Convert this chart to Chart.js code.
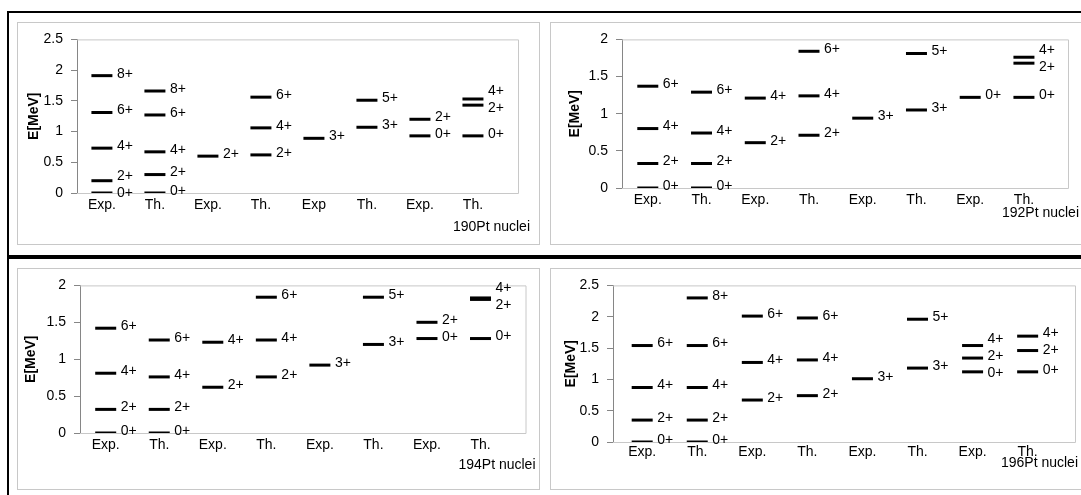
<!DOCTYPE html>
<html>
<head>
<meta charset="utf-8">
<script src="https://cdn.jsdelivr.net/npm/chart.js@4.4.0/dist/chart.umd.min.js"></script>
<style>
  body { margin: 0; width: 1081px; height: 495px; overflow: hidden; background: #fff; position: relative; }
  .frame { position: absolute; background: #000; }
  .panel { position: absolute; border: 1px solid #c8c8c8; }
  .panel canvas { display: block; }
</style>
</head>
<body>
<div class="frame" style="left:7px;top:11px;width:1074px;height:2px"></div>
<div class="frame" style="left:7px;top:11px;width:2px;height:484px"></div>
<div class="frame" style="left:7px;top:255px;width:1074px;height:4px"></div>

<div class="panel" style="left:17px;top:22px"><canvas id="c190" width="521" height="221"></canvas></div>
<div class="panel" style="left:550px;top:22px"><canvas id="c192" width="538" height="221"></canvas></div>
<div class="panel" style="left:17px;top:268px"><canvas id="c194" width="521" height="220"></canvas></div>
<div class="panel" style="left:550px;top:268px"><canvas id="c196" width="538" height="220"></canvas></div>

<script>
// column names under each diagram
const cats190 = ['Exp.', 'Th.', 'Exp.', 'Th.', 'Exp', 'Th.', 'Exp.', 'Th.'];
const cats192 = ['Exp.', 'Th.', 'Exp.', 'Th.', 'Exp.', 'Th.', 'Exp.', 'Th.'];
const cats194 = ['Exp.', 'Th.', 'Exp.', 'Th.', 'Exp.', 'Th.', 'Exp.', 'Th.'];
const cats196 = ['Exp.', 'Th.', 'Exp.', 'Th.', 'Exp.', 'Th.', 'Exp.', 'Th.'];

// level energies (MeV) per column, and their spin labels
const e190 = [[1.91, 1.31, 0.73, 0.20, 0], [1.66, 1.27, 0.67, 0.30, 0], [0.60], [1.56, 1.06, 0.62], [0.89], [1.51, 1.07], [1.20, 0.93], [1.53, 1.43, 0.93]];
const spin190 = [['8+', '6+', '4+', '2+', '0+'], ['8+', '6+', '4+', '2+', '0+'], ['2+'], ['6+', '4+', '2+'], ['3+'], ['5+', '3+'], ['2+', '0+'], ['4+', '2+', '0+']];

const e192 = [[1.37, 0.80, 0.33, 0], [1.29, 0.74, 0.33, 0], [1.21, 0.61], [1.84, 1.24, 0.71], [0.94], [1.81, 1.05], [1.22], [1.76, 1.68, 1.22]];
const spin192 = [['6+', '4+', '2+', '0+'], ['6+', '4+', '2+', '0+'], ['4+', '2+'], ['6+', '4+', '2+'], ['3+'], ['5+', '3+'], ['0+'], ['4+', '2+', '0+']];

const e194 = [[1.42, 0.81, 0.32, 0], [1.26, 0.76, 0.32, 0], [1.23, 0.62], [1.84, 1.26, 0.76], [0.92], [1.84, 1.20], [1.50, 1.28], [1.83, 1.81, 1.28]];
const spin194 = [['6+', '4+', '2+', '0+'], ['6+', '4+', '2+', '0+'], ['4+', '2+'], ['6+', '4+', '2+'], ['3+'], ['5+', '3+'], ['2+', '0+'], ['4+', '2+', '0+']];

const e196 = [[1.54, 0.87, 0.35, 0], [2.30, 1.54, 0.87, 0.35, 0], [2.01, 1.27, 0.67], [1.98, 1.31, 0.74], [1.01], [1.96, 1.18], [1.54, 1.34, 1.12], [1.69, 1.46, 1.12]];
const spin196 = [['6+', '4+', '2+', '0+'], ['8+', '6+', '4+', '2+', '0+'], ['6+', '4+', '2+'], ['6+', '4+', '2+'], ['3+'], ['5+', '3+'], ['4+', '2+', '0+'], ['4+', '2+', '0+']];

const FONT = "'Liberation Sans', Arial, sans-serif";
Chart.defaults.font.family = FONT;
Chart.defaults.font.size = 14;
Chart.defaults.color = '#000';

// plot frame (top, right, bottom) in light grey
const plotFrame = {
  id: 'plotFrame',
  beforeDatasetsDraw(chart) {
    const { ctx, chartArea: a } = chart;
    ctx.save();
    ctx.strokeStyle = '#c8c8c8';
    ctx.lineWidth = 1;
    ctx.beginPath();
    ctx.moveTo(a.left, a.top + 0.5);
    ctx.lineTo(a.right + 0.5, a.top + 0.5);
    ctx.lineTo(a.right + 0.5, a.bottom + 0.5);
    ctx.lineTo(a.left, a.bottom + 0.5);
    ctx.stroke();
    ctx.restore();
  }
};

// spin labels to the right of each level, pushed apart when levels crowd
const levelLabels = {
  id: 'levelLabels',
  afterDatasetsDraw(chart, args, opts) {
    const ctx = chart.ctx;
    const meta = chart.getDatasetMeta(0);
    const raw = chart.data.datasets[0].data;
    const cols = {};
    meta.data.forEach((pt, i) => {
      const c = raw[i].x;
      (cols[c] = cols[c] || []).push({ x: pt.x, y: pt.y - 2, text: raw[i].spin });
    });
    ctx.save();
    ctx.font = '14px ' + FONT;
    ctx.fillStyle = '#000';
    ctx.textBaseline = 'middle';
    Object.values(cols).forEach(list => {
      list.sort((a, b) => a.y - b.y);
      for (let pass = 0; pass < 30; pass++) {
        for (let k = 1; k < list.length; k++) {
          const d = list[k].y - list[k - 1].y;
          if (d < 17) {
            list[k].y += (17 - d) / 2;
            list[k - 1].y -= (17 - d) / 2;
          }
        }
      }
      list.forEach(l => ctx.fillText(l.text, l.x + 15, l.y));
    });
    // nucleus name under the right end of the axis
    ctx.textAlign = 'right';
    ctx.fillText(opts.name, chart.chartArea.right + opts.dx, chart.chartArea.bottom + opts.dy);
    ctx.restore();
  }
};

function drawPanel(cfg) {
  const points = [];
  cfg.E.forEach((col, i) => col.forEach((v, k) => points.push({ x: i, y: v, spin: cfg.spin[i][k] })));

  new Chart(document.getElementById(cfg.id), {
    type: 'scatter',
    data: {
      datasets: [{
        data: points,
        pointStyle: 'line',
        pointRadius: 10.5,
        borderWidth: 3,
        borderColor: '#000',
        backgroundColor: '#000',
        clip: { left: false, right: false, top: false, bottom: 0 }
      }]
    },
    options: {
      responsive: false,
      animation: false,
      events: [],
      layout: { padding: { left: 0, top: 16, right: cfg.right, bottom: 0 } },
      plugins: {
        legend: { display: false },
        tooltip: { enabled: false },
        levelLabels: { name: cfg.name, dx: cfg.nameDx, dy: cfg.nameDy }
      },
      scales: {
        x: {
          type: 'linear',
          min: cfg.xMin,
          max: cfg.xMax,
          afterBuildTicks: s => { s.ticks = cfg.cats.map((c, i) => ({ value: i })); },
          afterFit: s => { s.height = cfg.xHeight; },
          grid: { display: false, drawTicks: false },
          border: { display: false },
          ticks: {
            autoSkip: false,
            maxRotation: 0,
            padding: cfg.tickPad,
            callback: (v, i) => cfg.cats[i]
          }
        },
        y: {
          min: 0,
          max: cfg.yMax,
          afterFit: s => { s.width = cfg.left; },
          ticks: { stepSize: 0.5, padding: 8, callback: v => String(v) },
          grid: { drawOnChartArea: false, tickLength: 6, color: '#868686' },
          border: { color: '#868686' },
          title: {
            display: true,
            text: 'E[MeV]',
            font: { size: 14, weight: 'bold' },
            padding: { top: cfg.titlePad, bottom: 0 }
          }
        }
      }
    },
    plugins: [plotFrame, levelLabels]
  });
}

drawPanel({ id: 'c190', cats: cats190, E: e190, spin: spin190, yMax: 2.5, xMin: -0.47, xMax: 7.85,
  left: 59, right: 21, xHeight: 51, tickPad: 4, titlePad: 7.6, name: '190Pt nuclei', nameDx: 12, nameDy: 34 });
drawPanel({ id: 'c192', cats: cats192, E: e192, spin: spin192, yMax: 2, xMin: -0.48, xMax: 7.82,
  left: 71, right: 21, xHeight: 56, tickPad: 4, titlePad: 15.6, name: '192Pt nuclei', nameDx: 11, nameDy: 25 });
drawPanel({ id: 'c194', cats: cats194, E: e194, spin: spin194, yMax: 2, xMin: -0.48, xMax: 7.84,
  left: 62, right: 12, xHeight: 56, tickPad: 4, titlePad: 4.6, name: '194Pt nuclei', nameDx: 10, nameDy: 32 });
drawPanel({ id: 'c196', cats: cats196, E: e196, spin: spin196, yMax: 2.5, xMin: -0.53, xMax: 7.86,
  left: 62, right: 14, xHeight: 47, tickPad: 2, titlePad: 11.6, name: '196Pt nuclei', nameDx: 3, nameDy: 21 });
</script>
</body>
</html>
